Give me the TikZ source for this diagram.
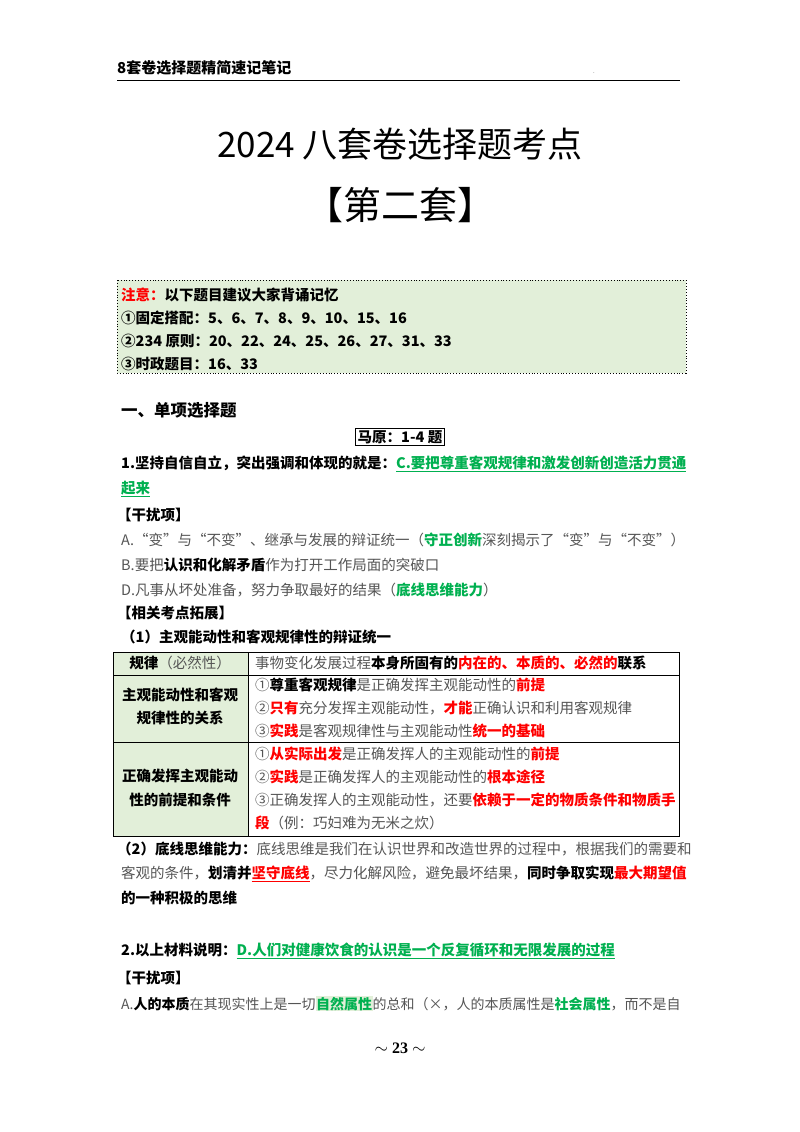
\documentclass[tikz,border=0pt]{standalone}
\usepackage{fontspec}
\setmainfont{Noto Sans CJK SC}
\newfontfamily\serifnum{Liberation Serif}
\definecolor{myred}{HTML}{FF0000}
\definecolor{mygreen}{HTML}{00B050}
\definecolor{boxgreen}{HTML}{E2EFD9}
\definecolor{bodygray}{HTML}{555555}
\newcommand{\Rb}[1]{\textcolor{myred}{\bfseries #1}}
\newcommand{\Gb}[1]{\textcolor{mygreen}{\bfseries #1}}
\newcommand{\Kb}[1]{\textcolor{black}{\bfseries #1}}
\setlength{\fboxsep}{0.5pt}
\begin{document}
\begin{tikzpicture}[x=1pt,y=-1pt,
  txt/.style={anchor=base west,inner sep=0pt,font=\fontsize{14.5}{17}\selectfont,text=bodygray},
  btxt/.style={txt,text=black,font=\fontsize{14.5}{17}\selectfont\bfseries},
  cell/.style={anchor=base,inner sep=0pt,font=\fontsize{14.5}{17}\selectfont\bfseries,text=black}]
\useasboundingbox (0,0) rectangle (800,1132);
\fill[white] (0,0) rectangle (800,1132);
% header
\node[btxt,font=\fontsize{15}{17}\selectfont\bfseries] (hd) at (117,74) {8套卷选择题精简速记笔记};
\coordinate (hl) at (117,80); \coordinate (hr) at (680,80);
\draw[line width=0.8pt] (hl) -- (hr);
\node[txt,font=\fontsize{6}{6}\selectfont] (dot) at (593,74) {.};
% title
\node[anchor=base,inner sep=0pt,font=\fontsize{35}{40}\selectfont] (t1) at (400,157) {2024 八套卷选择题考点};
\node[anchor=base,inner sep=0pt,font=\fontsize{38}{44}\selectfont] (t2) at (400,219) {【第二套】};
% notice box
\draw[dotted,line width=0.9pt,fill=boxgreen] (117,280) rectangle (686,373);
\node[btxt] (n1) at (121,300) {\Rb{注意：}以下题目建议大家背诵记忆};
\node[btxt] (n2) at (121,323) {①固定搭配：5、6、7、8、9、10、15、16};
\node[btxt] (n3) at (121,346) {②234 原则：20、22、24、25、26、27、31、33};
\node[btxt] (n4) at (121,369) {③时政题目：16、33};
% section
\node[btxt,font=\fontsize{16.5}{19}\selectfont\bfseries] (sec) at (121,416) {一、单项选择题};
\node[draw,line width=0.8pt,inner sep=2pt,font=\fontsize{14.5}{17}\selectfont\bfseries] (my) at (400,437) {马原：1-4 题};
% Q1
\node[btxt] (q1) at (121,468) {1.坚持自信自立，突出强调和体现的就是：\textcolor{mygreen}{\underline{C.要把尊重客观规律和激发创新创造活力贯通}}};
\node[btxt] (q1b) at (121,493) {\textcolor{mygreen}{\underline{起来}}};
\node[btxt] (g1) at (117,520) {【干扰项】};
\node[txt] (a1) at (121,545) {A.“变”与“不变”、继承与发展的辩证统一（\Gb{守正创新}深刻揭示了“变”与“不变”）};
\node[txt] (b1) at (121,570) {B.要把\Kb{认识和化解矛盾}作为打开工作局面的突破口};
\node[txt] (d1) at (121,595) {D.凡事从坏处准备，努力争取最好的结果（\Gb{底线思维能力}）};
\node[btxt] (x1) at (117,618) {【相关考点拓展】};
\node[btxt] (p1) at (121,642) {（1）主观能动性和客观规律性的辩证统一};
% table
\fill[boxgreen] (113,652) rectangle (248,836);
\draw[line width=0.8pt] (113,652) rectangle (679,836);
\draw[line width=0.8pt] (248,652) -- (248,836);
\draw[line width=0.8pt] (113,675) -- (679,675);
\draw[line width=0.8pt] (113,742) -- (679,742);
\node[cell] (c11) at (180,668) {规律\textcolor{bodygray}{\mdseries（必然性）}};
\node[txt] (c12) at (255,668) {事物变化发展过程\Kb{本身所固有的}\Rb{内在的、本质的、必然的}\Kb{联系}};
\node[cell] (c21) at (180,700) {主观能动性和客观};
\node[cell] (c21b) at (180,723) {规律性的关系};
\node[txt] (c22) at (255,690) {①\Kb{尊重客观规律}是正确发挥主观能动性的\Rb{前提}};
\node[txt] (c23) at (255,713) {②\Rb{只有}充分发挥主观能动性，\Rb{才能}正确认识和利用客观规律};
\node[txt] (c24) at (255,736) {③\Rb{实践}是客观规律性与主观能动性\Rb{统一的基础}};
\node[cell] (c31) at (180,781) {正确发挥主观能动};
\node[cell] (c31b) at (180,805) {性的前提和条件};
\node[txt] (c32) at (255,759) {①\Rb{从实际出发}是正确发挥人的主观能动性的\Rb{前提}};
\node[txt] (c33) at (255,782) {②\Rb{实践}是正确发挥人的主观能动性的\Rb{根本途径}};
\node[txt] (c34) at (255,805) {③正确发挥人的主观能动性，还要\Rb{依赖于一定的物质条件和物质手}};
\node[txt] (c35) at (255,828) {\Rb{段}（例：巧妇难为无米之炊）};
% (2)
\node[txt] (p2) at (117,854) {\Kb{（2）底线思维能力：}底线思维是我们在认识世界和改造世界的过程中，根据我们的需要和};
\node[txt] (p2b) at (121,878) {客观的条件，\Kb{划清并}\textcolor{myred}{\bfseries\underline{坚守底线}}，尽力化解风险，避免最坏结果，\Kb{同时争取实现}\Rb{最大期望值}};
\node[btxt] (p2c) at (121,903) {的一种积极的思维};
% Q2
\node[btxt] (q2) at (121,955) {2.以上材料说明：\textcolor{mygreen}{\underline{D.人们对健康饮食的认识是一个反复循环和无限发展的过程}}};
\node[btxt] (g2) at (117,983) {【干扰项】};
\node[txt,font=\fontsize{14}{17}\selectfont] (a2) at (121,1009) {A.\Kb{人的本质}在其现实性上是一切\colorbox{boxgreen}{\Gb{自然属性}}的总和（×，人的本质属性是\Gb{社会属性}，而不是自};
% page number
\node[anchor=base,inner sep=0pt,font=\serifnum\fontsize{16}{18}\selectfont\bfseries] (pg) at (400,1053) {$\sim$ 23 $\sim$};
\end{tikzpicture}
\end{document}
